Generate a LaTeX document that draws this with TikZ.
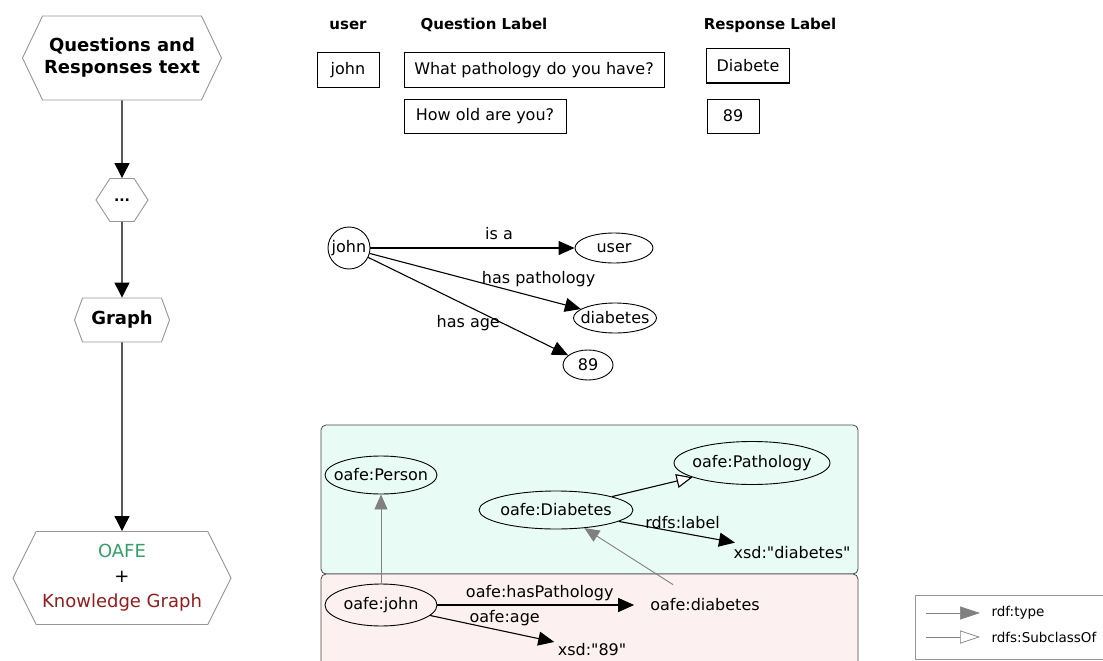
\documentclass[tikz,border=0pt]{standalone}
\usepackage{fontspec}
\setmainfont{DejaVu Sans}[Ligatures=TeXOff]
\usetikzlibrary{arrows.meta,shapes.symbols,shapes.geometric}

\definecolor{oafegreen}{RGB}{52,160,104}
\definecolor{kgred}{RGB}{145,30,30}
\definecolor{tbox}{RGB}{232,252,245}
\definecolor{pbox}{RGB}{253,240,240}
\definecolor{hexline}{RGB}{150,150,150}
\definecolor{boxline}{RGB}{70,70,70}

\newcommand{\tight}[1]{\makebox[0pt]{#1}}

\tikzset{
    hexa/.style={shape=signal, signal to=east and west, draw=hexline,
        line width=0.9pt, fill=white, align=center, inner sep=0pt},
    cell/.style={draw, line width=1pt, minimum height=34, inner sep=0pt},
    head/.style={font=\bfseries\fontsize{15}{18}\selectfont},
    rdfnode/.style={ellipse, draw, line width=0.9pt, inner sep=0pt},
    flow/.style={line width=1.2pt, -{Triangle[length=15pt,width=15pt]}},
    rel/.style={line width=1.1pt, -{Triangle[length=16pt,width=14pt]}},
    typeof/.style={gray, line width=0.9pt, -{Triangle[length=15pt,width=13pt]}},
    subof/.style={line width=1.1pt, -{Triangle[open,fill=white,length=16pt,width=14pt]}},
}

\begin{document}
\begin{tikzpicture}[x=1pt, y=-1pt, font=\fontsize{16}{19}\selectfont]
    \useasboundingbox (0,0) rectangle (1103,661);

    % flow on the left
    \node [hexa, signal pointer angle=129, minimum width=199, minimum height=84,
        font=\bfseries\fontsize{18}{22}\selectfont]
        (qr) at (122,58) {Questions and\\Responses text};
    \node [hexa, signal pointer angle=114, minimum width=52, minimum height=43,
        font=\bfseries\fontsize{14}{16}\selectfont]
        (dots) at (122,200) {...};
    \node [hexa, signal pointer angle=140, minimum width=95, minimum height=44,
        font=\bfseries\fontsize{18}{22}\selectfont]
        (graph) at (122,320) {Graph};
    \node [hexa, signal pointer angle=127, minimum width=218, minimum height=93,
        font=\fontsize{18}{25}\selectfont]
        (kg) at (122,578)
        {\textcolor{oafegreen}{OAFE}\\+\\\textcolor{kgred}{Knowledge Graph}};

    \draw [flow] (qr) -- (dots);
    \draw [flow] (dots) -- (graph);
    \draw [flow] (graph) -- (kg);

    % table
    \node [head] (huser) at (348,25) {user};
    \node [head] (hquest) at (484,25) {Question Label};
    \node [head] (hresp) at (770,25) {Response Label};

    \node [cell, minimum width=62] (tjohn) at (348,70) {john};
    \node [cell, minimum width=260] (tq1) at (534,70) {What pathology do you have?};
    \node [cell, minimum width=83] (tr1) at (748,66) {Diabete};
    \node [cell, minimum width=162] (tq2) at (485,116) {How old are you?};
    \node [cell, minimum width=52] (tr2) at (733,116) {89};

    % simple graph
    \node [circle, draw, line width=0.9pt, minimum size=42, inner sep=0pt]
        (gjohn) at (349,248) {\tight{john}};
    \node [rdfnode, minimum width=78, minimum height=30] (guser) at (614,248) {\tight{user}};
    \node [rdfnode, minimum width=83, minimum height=30] (gdiab) at (615,318) {\tight{diabetes}};
    \node [rdfnode, minimum width=50, minimum height=30] (gage) at (588,365) {\tight{89}};

    \draw [rel] (gjohn) -- node [above=4pt, pos=0.63] {is a} (guser);
    \draw [rel] (gjohn) -- node [above=7pt, pos=0.8] {has pathology} (gdiab);
    \draw [rel] (gjohn) -- node [below=5pt, pos=0.5] {has age} (gage);

    % knowledge graph
    \draw [boxline, line width=0.8pt, rounded corners=5, fill=tbox]
        (321,425) rectangle (858,574);
    \draw [boxline, line width=0.8pt, rounded corners=5, fill=pbox]
        (321,574) rectangle (858,690);

    \node [rdfnode, minimum width=112, minimum height=38] (person) at (381,475) {\tight{oafe:Person}};
    \node [rdfnode, minimum width=156, minimum height=43] (pathology) at (752,463) {\tight{oafe:Pathology}};
    \node [rdfnode, minimum width=154, minimum height=38] (diabclass) at (556,510) {\tight{oafe:Diabetes}};
    \node [inner sep=4pt] (lit) at (792,553) {xsd:"diabetes"};
    \node [rdfnode, minimum width=112, minimum height=42] (ojohn) at (381,605) {\tight{oafe:john}};
    \node [inner xsep=16pt, inner ysep=14pt] (odiab) at (705,605) {oafe:diabetes};
    \node (lit89) at (592,650) {xsd:"89"};

    \draw [typeof] (ojohn) -- (person);
    \draw [typeof] (odiab) -- (diabclass);
    \draw [subof] (diabclass) -- (pathology);
    \draw [rel] (diabclass) -- node [above, pos=0.55] {rdfs:label} (lit);
    \draw [rel] (ojohn) -- node [above, pos=0.52] {oafe:hasPathology} (odiab);
    \draw [rel] (ojohn) -- node [above=2pt, pos=0.6] {oafe:age} (lit89);

    % legend
    \draw [hexline, line width=0.8pt] (915,595) rectangle (1115,659);
    \coordinate (ta) at (926,613);
    \coordinate (sa) at (926,637);
    \node [anchor=west, font=\fontsize{13.5}{16}\selectfont] (ltype) at (988,613) {rdf:type};
    \node [anchor=west, font=\fontsize{13.5}{16}\selectfont] (lsub) at (988,637) {rdfs:SubclassOf};
    \draw [typeof, line width=0.7pt, -{Triangle[length=20pt,width=13pt]}]
        (ta) -- ([xshift=-8]ltype.west);
    \draw [gray, line width=0.7pt, -{Triangle[open,fill=white,length=20pt,width=13pt]}]
        (sa) -- ([xshift=-8]lsub.west);
\end{tikzpicture}
\end{document}
